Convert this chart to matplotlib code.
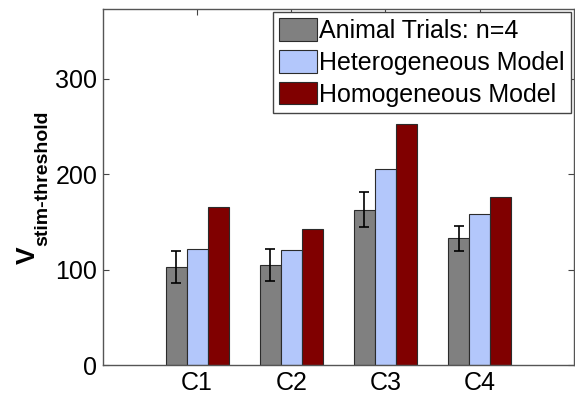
import numpy as np
import matplotlib.pyplot as plt
from matplotlib.patches import Patch

plt.rcParams['font.family'] = ['Liberation Sans', 'DejaVu Sans']

categories = ['C1', 'C2', 'C3', 'C4']
animal_mean = [103, 105, 163, 133]
animal_err = [17, 17, 18, 13]
hetero_model = [122, 121, 206, 158]
homo_model = [166, 143, 253, 176]

series_labels = ['Animal Trials: n=4', 'Heterogeneous Model', 'Homogeneous Model']
colors = ['#808080', '#b3c7fb', '#800000']

fig = plt.figure(figsize=(5.75, 3.99), dpi=100)
ax = fig.add_axes([0.179, 0.085, 0.819, 0.892])

x = np.arange(1, len(categories) + 1)
w = 0.223
edge = '#2b2b2b'

ax.bar(x - w, animal_mean, w, color=colors[0], edgecolor=edge, linewidth=0.8, zorder=2)
ax.bar(x, hetero_model, w, color=colors[1], edgecolor=edge, linewidth=0.8, zorder=2)
ax.bar(x + w, homo_model, w, color=colors[2], edgecolor=edge, linewidth=0.8, zorder=2)
ax.errorbar(x - w, animal_mean, yerr=animal_err, fmt='none', ecolor='black',
            elinewidth=1.2, capsize=3.5, capthick=1.2, zorder=3)

ax.set_xlim(0, 5)
ax.set_ylim(0, 373)
ax.set_xticks(x)
ax.set_xticklabels(categories)
ax.set_yticks([0, 100, 200, 300])
ax.tick_params(direction='in', top=True, right=True, length=4, width=0.8,
               color='#444444', labelsize=18, pad=4)
for s in ax.spines.values():
    s.set_color('#555555')
    s.set_linewidth(1.0)

handles = [Patch(facecolor=c, edgecolor=edge, linewidth=0.8) for c in colors]
leg = ax.legend(handles, series_labels, loc='upper right', fontsize=18,
                handlelength=1.5, handleheight=1.0, handletextpad=0.1,
                labelspacing=0.28, borderpad=0.25, borderaxespad=0.12,
                fancybox=False, framealpha=1)
leg.get_frame().set_edgecolor('#444444')
leg.get_frame().set_linewidth(1.0)

# y-axis label: bold V with bold subscript
fig.text(0.048, 0.36, 'V', rotation=90, fontsize=19, fontweight='bold',
         ha='center', va='center')
fig.text(0.075, 0.553, 'stim-threshold', rotation=90, fontsize=14,
         fontweight='bold', ha='center', va='center')

fig.savefig('out.png', dpi=100)
